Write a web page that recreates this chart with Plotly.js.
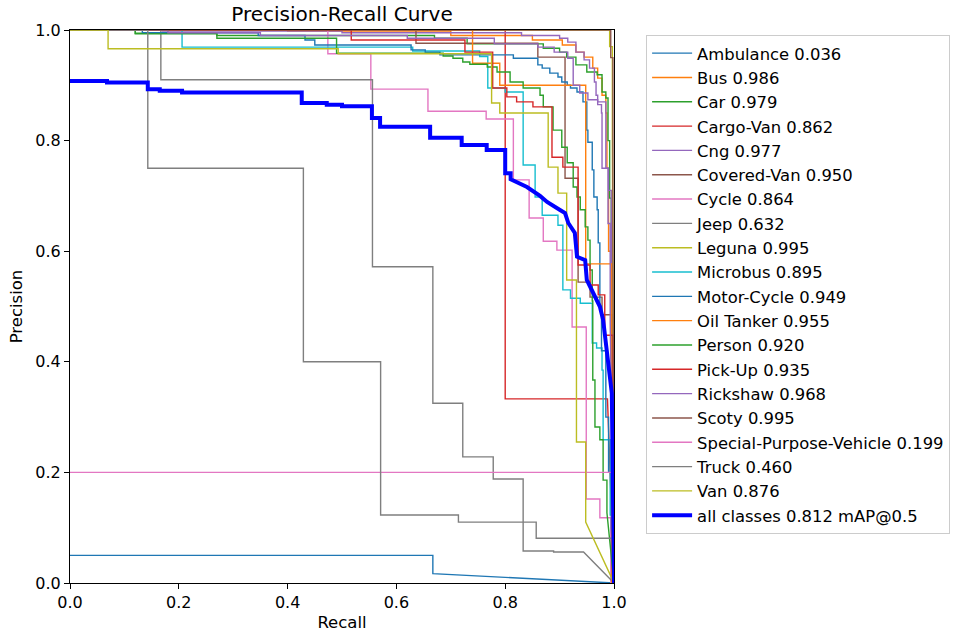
<!DOCTYPE html>
<html>
<head>
<meta charset="utf-8">
<script src="https://cdn.plot.ly/plotly-3.0.1.min.js"></script>
<style>html,body{margin:0;padding:0;background:#fff;}#chart{width:954px;height:632px;}</style>
</head>
<body>
<div id="chart"></div>
<script>
// ---- Data (recall breakpoints / precision levels) ----
const classNames = ["Ambulance","Bus","Car","Cargo-Van","Cng","Covered-Van","Cycle","Jeep","Leguna","Microbus","Motor-Cycle","Oil Tanker","Person","Pick-Up","Rickshaw","Scoty","Special-Purpose-Vehicle","Truck","Van"];
const apValues = [0.036,0.986,0.979,0.862,0.977,0.950,0.864,0.632,0.995,0.895,0.949,0.955,0.920,0.935,0.968,0.995,0.199,0.460,0.876];
const mapAll = 0.812;
const palette = ["#1f77b4","#ff7f0e","#2ca02c","#d62728","#9467bd","#8c564b","#e377c2","#7f7f7f","#bcbd22","#17becf"];

const ambulanceR = [0,0.667,1];
const ambulanceP = [0.05,0.017,0];
const busR = [0,0.4,0.7,0.85,0.905,0.93,0.945,0.961,0.97,0.978,0.985,0.987,0.99,0.995,1];
const busP = [1,0.998,0.99,0.982,0.973,0.96,0.951,0.931,0.913,0.882,0.85,0.75,0.6,0.45,0];
const carR = [0,0.12,0.27,0.67,0.73,0.87,0.9,0.913,0.93,0.95,0.969,0.978,0.985,0.989,0.992,0.995,1];
const carP = [1,0.994,0.99,0.985,0.975,0.967,0.96,0.951,0.937,0.924,0.919,0.888,0.877,0.8,0.696,0.5,0];
const cargoVanR = [0,0.8,0.988,1];
const cargoVanP = [1,0.333,0.333,0];
const cngR = [0,0.17,0.5,0.83,0.9,0.915,0.93,0.945,0.955,0.964,0.967,0.97,0.985,0.99,0.995,1];
const cngP = [1,0.998,0.995,0.99,0.985,0.978,0.96,0.946,0.931,0.906,0.882,0.87,0.75,0.71,0.45,0];
const coveredVanR = [0,0.636,0.86,0.91,0.934,0.956,0.978,0.996];
const coveredVanP = [1,0.976,0.951,0.732,0.544,0.517,0.485,0];
const cycleR = [0,0.474,0.553,0.658,0.765,0.815,0.844,0.87,0.895,0.923,0.949,0.974,0.994];
const cycleP = [1,0.957,0.893,0.853,0.839,0.729,0.66,0.618,0.602,0.463,0.152,0.118,0];
const jeepR = [0,0.167,0.556,0.667,0.722,0.778,0.833,0.889,0.944,1];
const jeepP = [1,0.91,0.572,0.325,0.228,0.188,0.058,0.056,0.056,0];
const legunaR = [0,0.992,0.997,1];
const legunaP = [1,0.97,0.8,0];
const microbusR = [0,0.206,0.63,0.753,0.768,0.8,0.833,0.855,0.868,0.897,0.906,0.92,0.938,0.96,0.968,0.978,0.98,0.993,0.999];
const microbusP = [1,0.969,0.962,0.952,0.895,0.888,0.756,0.698,0.665,0.647,0.53,0.515,0.506,0.434,0.425,0.385,0.259,0.123,0];
const motorCycleR = [0,0.133,0.346,0.432,0.45,0.627,0.653,0.68,0.815,0.86,0.868,0.882,0.897,0.904,0.914,0.92,0.932,0.943,0.95,0.952,0.96,0.963,0.969,0.971,0.974,0.977,0.985,0.99,0.995,1];
const motorCycleP = [1,0.995,0.99,0.982,0.973,0.964,0.96,0.955,0.949,0.937,0.931,0.922,0.915,0.906,0.9,0.895,0.888,0.87,0.819,0.797,0.747,0.698,0.675,0.615,0.5,0.42,0.3,0.2,0.1,0];
const oilTankerR = [0,0.74,0.79,0.948,0.996];
const oilTankerP = [1,0.94,0.9,0.577,0];
const personR = [0,0.12,0.27,0.49,0.686,0.704,0.722,0.735,0.767,0.785,0.809,0.833,0.864,0.87,0.888,0.904,0.914,0.925,0.932,0.938,0.947,0.952,0.956,0.96,0.961,0.965,0.974,0.98,0.987,1];
const personP = [1,0.993,0.985,0.958,0.953,0.949,0.942,0.938,0.933,0.924,0.906,0.895,0.882,0.861,0.819,0.788,0.76,0.716,0.698,0.675,0.644,0.62,0.566,0.51,0.367,0.282,0.259,0.186,0.127,0];
const pickUpR = [0,0.517,0.726,0.777,0.803,0.821,0.851,0.886,0.906,0.934,0.956,0.971,0.983,0.998];
const pickUpP = [1,0.982,0.96,0.895,0.879,0.87,0.861,0.77,0.752,0.575,0.539,0.521,0.448,0];
const rickshawR = [0,0.18,0.35,0.62,0.78,0.86,0.89,0.915,0.925,0.937,0.952,0.97,0.977,0.978,0.989,0.993,1];
const rickshawP = [1,0.995,0.99,0.985,0.975,0.969,0.96,0.949,0.9,0.886,0.874,0.865,0.85,0.75,0.65,0.47,0];
const scotyR = [0,0.994,0.998,1];
const scotyP = [1,0.95,0.6,0];
const specialR = [0,1];
const specialP = [0.2,0];
const truckR = [0,0.143,0.429,0.571,0.714,0.857,1];
const truckP = [1,0.75,0.4,0.123,0.11,0.081,0];
const vanR = [0,0.07,0.493,0.775,0.79,0.879,0.897,0.913,0.931,0.948,1];
const vanP = [1,0.966,0.957,0.868,0.85,0.752,0.705,0.548,0.255,0.11,0];
const allR = [0,0.068,0.143,0.165,0.206,0.426,0.472,0.5,0.555,0.57,0.662,0.72,0.766,0.8,0.81,0.84,0.864,0.877,0.9,0.91,0.916,0.928,0.932,0.947,0.95,0.962,0.974,0.98,0.987,0.996,1];
const allP = [0.908,0.905,0.893,0.89,0.887,0.868,0.865,0.862,0.841,0.825,0.805,0.792,0.783,0.741,0.73,0.716,0.70,0.689,0.675,0.669,0.651,0.633,0.59,0.584,0.548,0.524,0.5,0.476,0.416,0.343,0];

const classRecall = [ambulanceR,busR,carR,cargoVanR,cngR,coveredVanR,cycleR,jeepR,legunaR,microbusR,motorCycleR,oilTankerR,personR,pickUpR,rickshawR,scotyR,specialR,truckR,vanR];
const classPrecision = [ambulanceP,busP,carP,cargoVanP,cngP,coveredVanP,cycleP,jeepP,legunaP,microbusP,motorCycleP,oilTankerP,personP,pickUpP,rickshawP,scotyP,specialP,truckP,vanP];
// classes whose last segment runs straight to (1, 0)
const diagonalTail = ["Ambulance","Car","Cargo-Van","Jeep","Leguna","Person","Scoty","Van","Rickshaw","Bus","Cng","Motor-Cycle"];

// step path: level p[i] holds from r[i] to r[i+1], then drops.
// From recall `smoothFrom` on, breakpoints are joined directly.
function stepPath(r, p, diag, smoothFrom) {
  const x = [], y = [];
  const n = r.length;
  for (let i = 0; i < n - 1; i++) {
    x.push(r[i]); y.push(p[i]);
    if (diag && i === n - 2) continue;
    if (smoothFrom !== undefined && r[i] >= smoothFrom) continue;
    x.push(r[i + 1]); y.push(p[i]);
  }
  x.push(r[n - 1]); y.push(p[n - 1]);
  return {x, y};
}

const traces = classNames.map((name, i) => {
  const path = stepPath(classRecall[i], classPrecision[i], diagonalTail.includes(name));
  return {
    type: 'scatter', mode: 'lines', x: path.x, y: path.y,
    name: name + ' ' + apValues[i].toFixed(3),
    line: {color: palette[i % 10], width: 1.4},
    hoverinfo: 'skip'
  };
});
const allPath = stepPath(allR, allP, true, 0.81);
traces.push({
  type: 'scatter', mode: 'lines', x: allPath.x, y: allPath.y,
  name: 'all classes ' + mapAll.toFixed(3) + ' mAP@0.5',
  line: {color: '#0000ff', width: 4},
  hoverinfo: 'skip'
});

const axisCommon = {
  range: [0, 1], dtick: 0.2, tick0: 0, tickformat: '.1f',
  ticks: 'outside', ticklen: 5, tickwidth: 1, tickcolor: '#000',
  showline: true, mirror: true, linecolor: '#000', linewidth: 1,
  showgrid: false, zeroline: false,
  tickfont: {family: 'DejaVu Sans', size: 16, color: '#000'}
};

const layout = {
  width: 954, height: 632,
  margin: {l: 70, r: 340, t: 30, b: 49, autoexpand: false},
  paper_bgcolor: '#fff', plot_bgcolor: '#fff',
  font: {family: 'DejaVu Sans', color: '#000'},
  title: {text: 'Precision-Recall Curve', x: 0.5, xref: 'paper', xanchor: 'center', y: 0.978, yanchor: 'middle', yref: 'container', font: {family: 'DejaVu Sans', size: 20, color: '#000'}},
  xaxis: Object.assign({}, axisCommon, {title: {text: 'Recall', font: {family: 'DejaVu Sans', size: 16.5}, standoff: 6}}),
  yaxis: Object.assign({}, axisCommon, {title: {text: 'Precision', font: {family: 'DejaVu Sans', size: 16.5}, standoff: 8}}),
  showlegend: true,
  legend: {
    x: 1.059, y: 0.991, xanchor: 'left', yanchor: 'top',
    bgcolor: '#fff', bordercolor: '#cccccc', borderwidth: 1,
    font: {family: 'DejaVu Sans', size: 16.4, color: '#000'},
    itemwidth: 40, tracegroupgap: 0
  }
};

Plotly.newPlot('chart', traces, layout, {staticPlot: true, displayModeBar: false});
</script>
</body>
</html>
